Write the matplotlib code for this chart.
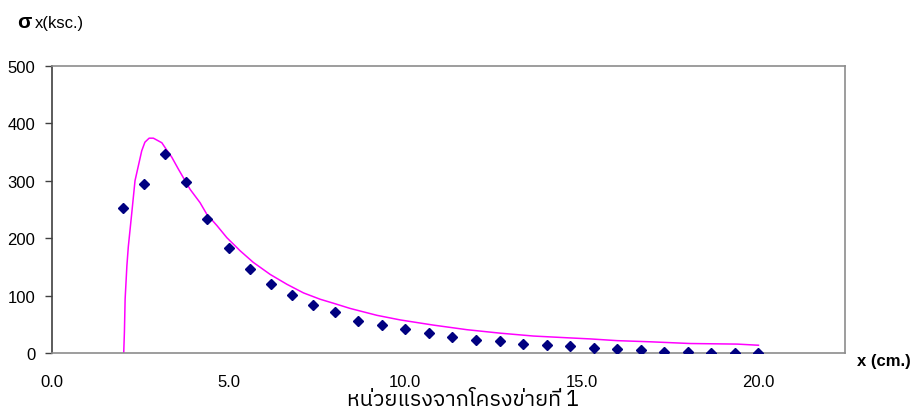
import matplotlib
matplotlib.use("Agg")
import matplotlib.pyplot as plt
from matplotlib import font_manager
from matplotlib.ft2font import FT2Font

# ---- data ----
pt_x = [2.0, 2.6, 3.2, 3.8, 4.4, 5.0, 5.6, 6.2, 6.8, 7.4, 8.0,
        8.67, 9.33, 10.0, 10.67, 11.33, 12.0, 12.67, 13.33, 14.0, 14.67,
        15.33, 16.0, 16.67, 17.33, 18.0, 18.67, 19.33, 20.0]
pt_y = [253, 294, 347, 297, 234, 183, 147, 121, 101, 84, 72,
        57, 50, 43, 35, 28, 23, 21, 16, 14, 12,
        9, 7, 5, 3, 3, 0.5, 0.5, 0.5]

line_x = [2.03, 2.05, 2.07, 2.12, 2.16, 2.26, 2.35, 2.54, 2.63, 2.75,
          2.87, 3.11, 3.23, 3.39, 3.58, 3.91, 4.19, 4.38, 4.67, 4.95, 5.33,
          5.7, 6.18, 6.65, 7.12, 7.59, 7.97, 8.44, 9.2, 9.86, 10.8, 11.75, 12.69,
          13.63, 14.58, 15.24, 16.0, 16.94, 18.07, 19.4, 20.0]
line_y = [0, 37, 94, 152, 185, 245, 300, 352, 367, 374,
          374, 366, 355, 341, 320, 285, 262, 242, 222, 201, 178,
          158, 137, 120, 105, 94, 87, 78, 66, 58, 49, 41, 35,
          30, 27, 25, 22, 20, 17, 16, 14]

x_ticks = [0, 5, 10, 15, 20]
x_ticklabels = ["0.0", "5.0", "10.0", "15.0", "20.0"]
y_ticks = [0, 100, 200, 300, 400, 500]

title_x = "หน่วยแรงจากโครงข่ายที่ 1"

# ---- find a font with Thai glyphs ----
thai_family = None
for f in font_manager.fontManager.ttflist:
    try:
        cm = FT2Font(f.fname).get_charmap()
        if 0x0E2B in cm and 0x0E48 in cm:
            thai_family = f.name
            if "Sans" in f.name:
                break
    except Exception:
        pass

base = "Liberation Sans"
fams = [base, "DejaVu Sans"]
thai_fams = ([thai_family] if thai_family else []) + fams

plt.rcParams['font.family'] = fams

fig = plt.figure(figsize=(9.19, 4.14), dpi=100)
ax = fig.add_axes([52/919, 1 - 354.3/414, (845-52)/919, (354.3-66.7)/414])

ax.plot(line_x, line_y, color="#FF00FF", lw=1.1, zorder=2)
ax.plot(pt_x, pt_y, linestyle="none", marker="D", markersize=4.6,
        color="#000080", zorder=3)

ax.set_xlim(0, 22.45)
ax.set_ylim(0, 500)
ax.set_xticks(x_ticks)
ax.set_xticklabels(x_ticklabels, fontsize=12)
ax.set_yticks(y_ticks)
ax.set_yticklabels([str(v) for v in y_ticks], fontsize=12)
ax.tick_params(axis='x', length=0, pad=15)
ax.tick_params(axis='y', direction='out', length=5, width=1, color="#404040", pad=7)

for s in ['top', 'right', 'bottom']:
    ax.spines[s].set_color("#8c8c8c")
    ax.spines[s].set_linewidth(1.2)
ax.spines['left'].set_color("#404040")
ax.spines['left'].set_linewidth(1.2)

# y-axis label
fig.text(17/919, 1 - 28/414, "σ", fontsize=15, fontweight='bold', va='baseline', ha='left',
         family=fams)
fig.text(35/919, 1 - 28/414, "x(ksc.)", fontsize=12, va='baseline', ha='left', family=fams)

# x-axis label at right
fig.text(857/919, 1 - 362/414, "x (cm.)", fontsize=12, fontweight='bold',
         va='center', ha='left', family=fams)

# bottom Thai label
fig.text(463/919, 1 - 406/414, title_x, fontsize=15.5, va='baseline', ha='center',
         family=thai_fams)

fig.savefig("out.png", dpi=100)
